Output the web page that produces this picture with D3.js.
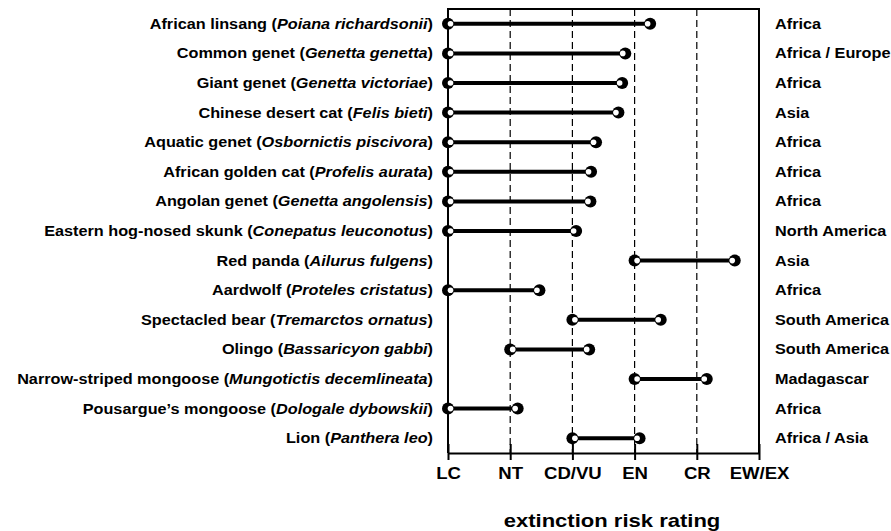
<!DOCTYPE html>
<html><head><meta charset="utf-8">
<script src="https://cdn.jsdelivr.net/npm/d3@7"></script>
<style>body{margin:0;background:#fff}text{font-family:"Liberation Sans",Arial,sans-serif;font-weight:bold;fill:#000}</style>
</head><body><svg id="c" width="891" height="531"></svg>
<script>
const commonNames = ["African linsang","Common genet","Giant genet","Chinese desert cat","Aquatic genet","African golden cat","Angolan genet","Eastern hog-nosed skunk","Red panda","Aardwolf","Spectacled bear","Olingo","Narrow-striped mongoose","Pousargue\u2019s mongoose","Lion"];
const scientificNames = ["Poiana richardsonii","Genetta genetta","Genetta victoriae","Felis bieti","Osbornictis piscivora","Profelis aurata","Genetta angolensis","Conepatus leuconotus","Ailurus fulgens","Proteles cristatus","Tremarctos ornatus","Bassaricyon gabbi","Mungotictis decemlineata","Dologale dybowskii","Panthera leo"];
const startValues = [0,0,0,0,0,0,0,0,3,0,2,1,3,0,2];
const endValues = [3.25,2.85,2.80,2.74,2.38,2.30,2.29,2.06,4.61,1.47,3.42,2.27,4.16,1.12,3.08];
const regions = ["Africa","Africa / Europe","Africa","Asia","Africa","Africa","Africa","North America","Asia","Africa","South America","South America","Madagascar","Africa","Africa / Asia"];
const tickLabels = ["LC","NT","CD/VU","EN","CR","EW/EX"];
const axisTitle = "extinction risk rating";

const SX = 1.16;
const svg = d3.select("#c");
const L = 448, R = 759, T = 9, B = 453;
const x = d3.scaleLinear().domain([0,5]).range([L,R]);
const y = d3.scalePoint().domain(d3.range(commonNames.length)).range([T,B]).padding(0.5);

// dashed reference lines
svg.append("g").selectAll("line").data([1,2,3,4]).join("line")
  .attr("x1",d=>x(d)).attr("x2",d=>x(d)).attr("y1",T).attr("y2",B)
  .attr("stroke","#000").attr("stroke-width",1.2).attr("stroke-dasharray","7,4");

// frame
svg.append("path").attr("d",`M${L},${B}V${T}H${R}V${B}`).attr("fill","none").attr("stroke","#000").attr("stroke-width",2);

// bottom axis
const ax = svg.append("g").attr("transform",`translate(0,${B})`)
  .call(d3.axisBottom(x).tickValues(d3.range(6)).tickFormat(i=>tickLabels[i]).tickSize(7).tickSizeOuter(0).tickPadding(8));
ax.select(".domain").attr("stroke-width",2);
ax.selectAll(".tick line").attr("stroke-width",2).attr("y1",-9);
ax.selectAll(".tick text").attr("font-size",16).attr("font-family","Liberation Sans, Arial, sans-serif")
  .attr("font-weight","bold").attr("transform",`scale(${SX},1)`);

// bars
const rows = svg.append("g").selectAll("g").data(commonNames.map((n,i)=>i)).join("g");
rows.append("line").attr("x1",i=>x(startValues[i])).attr("x2",i=>x(endValues[i]))
  .attr("y1",i=>y(i)).attr("y2",i=>y(i)).attr("stroke","#000").attr("stroke-width",4);
rows.append("circle").attr("cx",i=>x(startValues[i])).attr("cy",i=>y(i)).attr("r",6).attr("fill","#000");
rows.append("circle").attr("cx",i=>x(startValues[i])+2.5).attr("cy",i=>y(i)).attr("r",2.8).attr("fill","#fff");
rows.append("circle").attr("cx",i=>x(endValues[i])).attr("cy",i=>y(i)).attr("r",6).attr("fill","#000");
rows.append("circle").attr("cx",i=>x(endValues[i])-2.5).attr("cy",i=>y(i)).attr("r",2.8).attr("fill","#fff");

// species labels
const lab = rows.append("text").attr("transform",i=>`translate(${L-15},${y(i)}) scale(${SX},1)`)
  .attr("dy","0.35em").attr("text-anchor","end").attr("font-size",14);
lab.append("tspan").text(i=>commonNames[i]+" (");
lab.append("tspan").attr("font-style","italic").text(i=>scientificNames[i]);
lab.append("tspan").text(")");

// regions
rows.append("text").attr("transform",i=>`translate(775,${y(i)}) scale(${SX},1)`)
  .attr("dy","0.35em").attr("font-size",14).text(i=>regions[i]);

// axis title
svg.append("text").attr("transform",`translate(612,527) scale(${SX},1)`).attr("text-anchor","middle").attr("font-size",19).text(axisTitle);
</script></body></html>
